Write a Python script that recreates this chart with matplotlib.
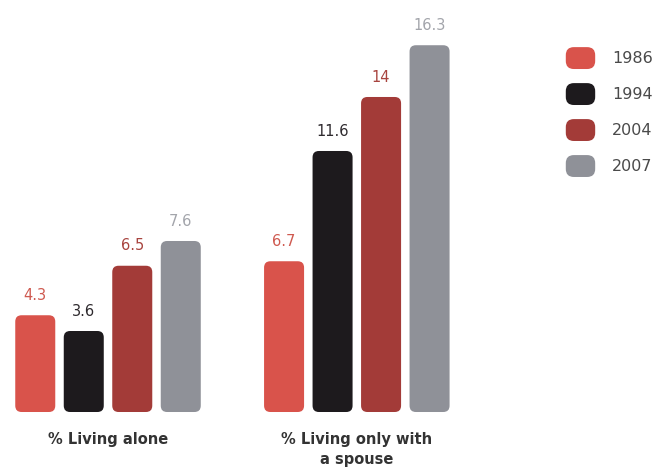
import numpy as np
import matplotlib.pyplot as plt
from matplotlib.patches import FancyBboxPatch

categories = ["% Living alone", "% Living only with\na spouse"]
years = ["1986", "1994", "2004", "2007"]
living_alone = [4.3, 3.6, 6.5, 7.6]
with_spouse = [6.7, 11.6, 14, 16.3]
values = [living_alone, with_spouse]

colors = ["#d9534b", "#1d1a1d", "#a33b38", "#8f9198"]
label_colors = ["#cf5a50", "#2e2a2e", "#a8443f", "#a3a5ab"]

fig = plt.figure(figsize=(6.68, 4.76), dpi=100)
ax = fig.add_axes([0, 0, 1, 1])
ax.set_xlim(-2.227, 11.546)
ax.set_ylim(-2.844, 18.31)
ax.axis("off")

group_x = [0, 5.13]
width = 0.825
for g, gx in enumerate(group_x):
    for i, v in enumerate(values[g]):
        x = gx + (i - 1.5)
        p = FancyBboxPatch((x - width / 2, 0), width, v,
                           boxstyle="round,pad=0,rounding_size=0.13",
                           mutation_aspect=2.17, fc=colors[i], ec="none")
        ax.add_patch(p)
        txt = f"{v:g}"
        ax.text(x, v + 0.55, txt, ha="center", va="bottom",
                fontsize=10.5, color=label_colors[i])
    ax.text(gx, -0.9, categories[g], ha="center", va="top",
            fontsize=10.5, color="#333333", fontweight="semibold",
            linespacing=1.4)

# legend
for i, y in enumerate(years):
    ly = 0.878 - i * 0.0756
    fig.patches.append(FancyBboxPatch((0.847, ly - 0.023), 0.044, 0.046,
                                      boxstyle="round,pad=0,rounding_size=0.012",
                                      mutation_aspect=1.4,
                                      fc=colors[i], ec="none",
                                      transform=fig.transFigure, figure=fig))
    fig.text(0.916, ly, y, ha="left", va="center", fontsize=11.5,
             color="#4a4a4a")

plt.savefig("out.png", dpi=100)
